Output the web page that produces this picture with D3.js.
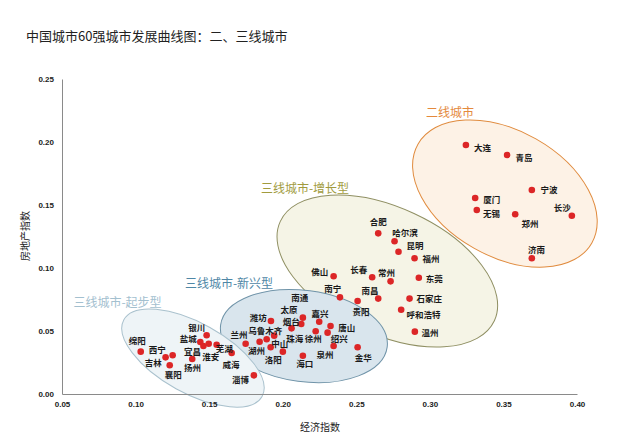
<!DOCTYPE html>
<html><head><meta charset="utf-8">
<script src="https://cdn.jsdelivr.net/npm/d3@7"></script>
<style>
html,body{margin:0;padding:0;background:#fff;}
svg{display:block;font-family:"Noto Sans CJK SC","Noto Sans",sans-serif;}
</style></head>
<body>
<svg id="chart" width="627" height="444"></svg>
<script>
// ---- data ----
const groupNames = ["二线城市", "三线城市-增长型", "三线城市-新兴型", "三线城市-起步型"];
const tier2Cities = ["大连","青岛","宁波","厦门","无锡","郑州","长沙","济南"];
const tier2Econ   = [0.3245,0.3525,0.3693,0.3308,0.3319,0.3580,0.3965,0.3693];
const tier2Estate = [0.1976,0.1897,0.1619,0.1556,0.1460,0.1426,0.1415,0.1077];

const growthCities = ["合肥","哈尔滨","昆明","福州","东莞","常州","长春","佛山","南宁","南昌","贵阳","石家庄","呼和浩特","温州"];
const growthEcon   = [0.2649,0.2760,0.2787,0.2896,0.2925,0.2733,0.2608,0.2346,0.2389,0.2649,0.2509,0.2862,0.2805,0.2898];
const growthEstate = [0.1275,0.1212,0.1129,0.1077,0.0923,0.0894,0.0926,0.0934,0.0767,0.0757,0.0738,0.0757,0.0669,0.0495];

const emergingCities = ["潍坊","南通","太原","烟台","嘉兴","唐山","徐州","绍兴","泉州","金华","海口","珠海","兰州","乌鲁木齐","湖州","中山","洛阳"];
const emergingEcon   = [0.1920,0.2137,0.1891,0.2126,0.2248,0.2325,0.2224,0.2305,0.2346,0.2509,0.2137,0.2060,0.1748,0.1942,0.1843,0.2001,0.1918];
const emergingEstate = [0.0579,0.0606,0.0434,0.0556,0.0574,0.0540,0.0498,0.0487,0.0381,0.0371,0.0304,0.0521,0.0399,0.0463,0.0415,0.0336,0.0371];

const startCities = ["绵阳","西宁","吉林","襄阳","银川","盐城","宜昌","扬州","淮安","芜湖","威海","淄博"];
const startEcon   = [0.1035,0.1252,0.1204,0.1232,0.1483,0.1440,0.1461,0.1385,0.1497,0.1551,0.1653,0.1804];
const startEstate = [0.0336,0.0307,0.0291,0.0228,0.0466,0.0413,0.0381,0.0278,0.0399,0.0391,0.0325,0.0148];

// group ellipse centres (data units)
const groupCenterEcon   = [0.3510, 0.2711, 0.2144, 0.1390];
const groupCenterEstate = [0.1591, 0.0976, 0.0460, 0.0285];

const xTicks = [0.05,0.10,0.15,0.20,0.25,0.30,0.35,0.40];
const yTicks = [0.00,0.05,0.10,0.15,0.20,0.25];

// ---- layout / style ----
const ellipseShape = [ // rx, ry, rotation (px, deg)
  [100, 62.8, 29.6],
  [118, 63.4, 24.9],
  [84, 45.6, 7.6],
  [79, 35, 29]
];
const groupFill   = ["#fdf2e6","#f5f4e6","#d9e5ed","#eef4f7"];
const groupStroke = ["#e08b3e","#8f8f62","#6f93a8","#a9c1cd"];
const groupLabelColor = ["#e4893c","#a19b3e","#4f87a6","#a3c0cf"];
const groupLabelPos = [[450,111],[305,187],[229,282],[117.5,301]]; // px centres

const labelOffset = {
  "大连":[8,2,"start"],"青岛":[8.4,2,"start"],"宁波":[8.7,-1,"start"],"厦门":[8,0.7,"start"],
  "无锡":[6.3,3.3,"start"],"郑州":[6.4,9,"start"],"长沙":[-9.7,-8.4,"middle"],"济南":[4.7,-9,"middle"],
  "合肥":[0,-12.6,"middle"],"哈尔滨":[-2.4,-9,"start"],"昆明":[8,-6.7,"start"],"福州":[8,0,"start"],
  "东莞":[7,0,"start"],"常州":[-4,-9,"middle"],"长春":[-13.3,-8.3,"middle"],"佛山":[-5.4,-5.3,"end"],
  "南宁":[-7.3,-9,"middle"],"南昌":[-8.3,-8.7,"middle"],"贵阳":[3.3,10,"middle"],"石家庄":[7,-1,"start"],
  "呼和浩特":[5.4,4.3,"start"],"温州":[6.7,0,"start"],
  "潍坊":[-12.7,-3.7,"middle"],"南通":[-3,-20.5,"middle"],"太原":[22.3,-30.3,"middle"],"烟台":[-10,-2.5,"middle"],
  "嘉兴":[0.7,-8.4,"middle"],"唐山":[7.6,0.7,"start"],"徐州":[-2.4,7,"middle"],"绍兴":[11.6,5,"middle"],
  "泉州":[-8.7,8.3,"middle"],"金华":[5.6,9.4,"middle"],"海口":[2,7.6,"middle"],"珠海":[3.3,9.4,"middle"],
  "兰州":[-6.7,-9.4,"middle"],"乌鲁木齐":[-9,-5.8,"middle"],"湖州":[-3,8.3,"middle"],"中山":[-3,-8.4,"middle"],
  "洛阳":[2.6,12,"middle"],
  "绵阳":[-3.4,-11.7,"middle"],"西宁":[-15.4,-6.3,"middle"],"吉林":[-12.4,4.7,"middle"],"襄阳":[3.6,8.7,"middle"],
  "银川":[-10,-8.2,"middle"],"盐城":[-12,-3.8,"middle"],"宜昌":[-10.8,5.2,"middle"],"扬州":[0.4,8.3,"middle"],
  "淮安":[2,12.6,"middle"],"芜湖":[7.5,2.8,"middle"],"威海":[-0.7,10.5,"middle"],"淄博":[-13.3,3.7,"middle"]
};

const svg = d3.select("#chart");
const x = d3.scaleLinear().domain([0.05, 0.40]).range([62, 577]);
const y = d3.scaleLinear().domain([0, 0.25]).range([394, 79]);

// title
svg.append("text").attr("x", 26).attr("y", 35).attr("dominant-baseline","central")
  .attr("font-size", 13).attr("fill", "#222").text("中国城市60强城市发展曲线图：二、三线城市");

// ellipses
const groups = groupNames.map((g,i)=>({name:g, cx:groupCenterEcon[i], cy:groupCenterEstate[i], i}));
svg.append("g").selectAll("ellipse").data(groups).join("ellipse")
  .attr("transform", d=>`translate(${x(d.cx)},${y(d.cy)}) rotate(${ellipseShape[d.i][2]})`)
  .attr("rx", d=>ellipseShape[d.i][0]).attr("ry", d=>ellipseShape[d.i][1])
  .attr("fill", d=>groupFill[d.i]).attr("stroke", d=>groupStroke[d.i]).attr("stroke-width", 1);

// axes
const xAxis = d3.axisBottom(x).tickValues(xTicks).tickFormat(d3.format(".2f")).tickSize(0).tickPadding(7);
const yAxis = d3.axisLeft(y).tickValues(yTicks).tickFormat(d3.format(".2f")).tickSize(0).tickPadding(8);
const gx = svg.append("g").attr("transform","translate(0,394)").call(xAxis);
const gy = svg.append("g").attr("transform","translate(62,0)").call(yAxis);
[gx, gy].forEach(g=>{
  g.select(".domain").attr("stroke","#8a8a8a").attr("stroke-width",1);
  g.selectAll("text").attr("font-family","'Liberation Sans',Arial,sans-serif").attr("font-size",8)
   .attr("fill","#222").attr("font-weight","bold");
});

// axis titles
svg.append("text").attr("x", 320).attr("y", 426).attr("text-anchor","middle").attr("dominant-baseline","central")
  .attr("font-size", 10).attr("fill","#222").text("经济指数");
svg.append("text").attr("transform","translate(24,236) rotate(-90)").attr("text-anchor","middle")
  .attr("dominant-baseline","central").attr("font-size", 10).attr("fill","#222").text("房地产指数");

// group labels
svg.append("g").selectAll("text").data(groups).join("text")
  .attr("x", d=>groupLabelPos[d.i][0]).attr("y", d=>groupLabelPos[d.i][1])
  .attr("text-anchor","middle").attr("dominant-baseline","central")
  .attr("font-size", 12).attr("fill", d=>groupLabelColor[d.i]).text(d=>d.name);

// points
const points = [];
[[tier2Cities,tier2Econ,tier2Estate],[growthCities,growthEcon,growthEstate],
 [emergingCities,emergingEcon,emergingEstate],[startCities,startEcon,startEstate]]
 .forEach(([c,e,r])=>c.forEach((n,k)=>points.push({name:n, econ:e[k], estate:r[k]})));

svg.append("g").selectAll("circle").data(points).join("circle")
  .attr("cx", d=>x(d.econ)).attr("cy", d=>y(d.estate)).attr("r", 3.3).attr("fill", "#dc2627");

svg.append("g").selectAll("text").data(points).join("text")
  .attr("x", d=>x(d.econ) + labelOffset[d.name][0]).attr("y", d=>y(d.estate) + labelOffset[d.name][1])
  .attr("text-anchor", d=>labelOffset[d.name][2]).attr("dominant-baseline","central")
  .attr("font-size", 8.5).attr("font-weight","bold").attr("fill","#1a1a1a").text(d=>d.name);
</script>
</body></html>
